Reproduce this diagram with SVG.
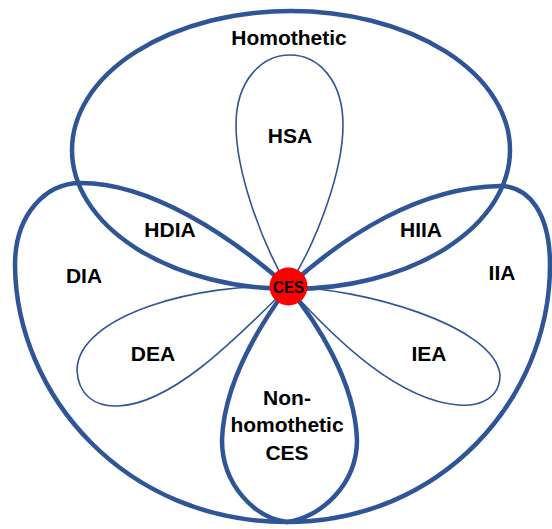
<svg xmlns="http://www.w3.org/2000/svg" width="552" height="529" viewBox="0 0 552 529">
<style>
.thick{fill:none;stroke:#2F5597;stroke-width:4.5;stroke-linejoin:round}
.thin{fill:none;stroke:#2F5597;stroke-width:1.6}
.lbl{font-family:"Liberation Sans",Arial,sans-serif;font-weight:bold;font-size:21px;fill:#000;text-anchor:middle}
.ces{font-family:"Liberation Sans",Arial,sans-serif;font-weight:bold;font-size:17px;fill:#000;text-anchor:middle}
</style>
<rect width="552" height="529" fill="#fff"/>
<g id="connectors"></g>
<g id="homothetic">
<ellipse class="thick" cx="291" cy="150" rx="219" ry="139"/>
<text class="lbl" x="289" y="45">Homothetic</text>
</g>
<g id="dia">
<path class="thick" d="M288,287 C230,235 150,183 81,183 C45,183 15,215 15,265 C16,395 125,522 287,522 C320,518 357,485 357,440 C355,380 315,320 288,287 Z"/>
<text class="lbl" x="84" y="283">DIA</text>
</g>
<g id="iia">
<path class="thick" d="M288,287 C345,235 420,187 500,186 C530,186 550,215 550,265 C550,400 440,522 287,522 C255,518 222,485 222,440 C224,380 262,322 288,287 Z"/>
<text class="lbl" x="502" y="280">IIA</text>
</g>
<g id="hsa">
<path class="thin" d="M288,287 C260,240 236,170 236,125 C236,80 262,55 290,55 C318,55 343,80 343,125 C343,170 318,240 288,287 Z"/>
<text class="lbl" x="290" y="143">HSA</text>
</g>
<g id="dea">
<path class="thin" d="M288,287 C200,282 78,315 77,370 C78,395 95,407 118,406 C170,404 230,345 288,287 Z"/>
<text class="lbl" x="153" y="361">DEA</text>
</g>
<g id="iea">
<path class="thin" d="M288,287 C360,288 495,325 500,375 C500,398 480,407 458,405 C400,400 340,345 288,287 Z"/>
<text class="lbl" x="429" y="361">IEA</text>
</g>
<g id="hdia">
<text class="lbl" x="170" y="237">HDIA</text>
</g>
<g id="hiia">
<text class="lbl" x="421" y="237">HIIA</text>
</g>
<g id="nonhomothetic">
<text class="lbl" x="287" y="405">Non-</text>
<text class="lbl" x="287" y="432">homothetic</text>
<text class="lbl" x="287" y="460">CES</text>
</g>
<g id="ces">
<circle cx="288.5" cy="286.5" r="19" fill="#FF0000"/>
<text class="ces" x="288.5" y="293" textLength="31" lengthAdjust="spacingAndGlyphs">CES</text>
</g>
</svg>
